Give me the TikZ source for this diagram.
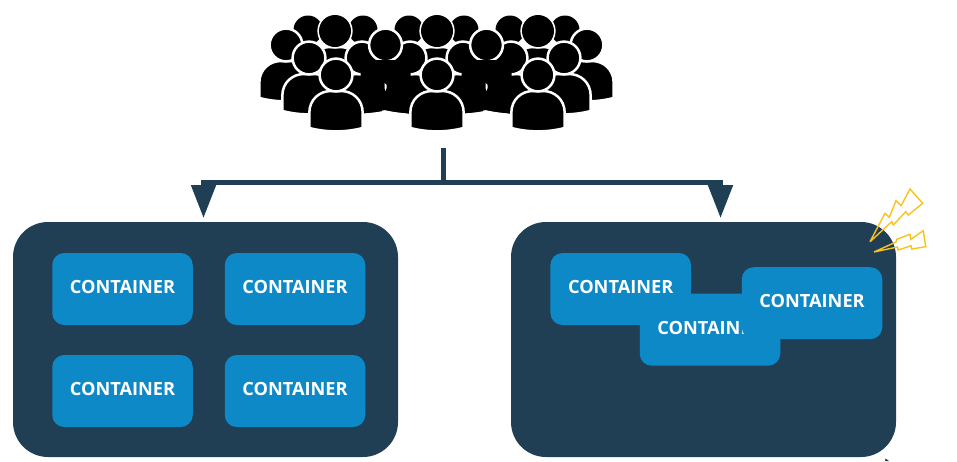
\documentclass[tikz,border=0pt]{standalone}
\usepackage{fontspec}
\setmainfont{Open Sans}
\usepackage{xcolor}
\usepackage{tikz}
\usetikzlibrary{arrows.meta,positioning}
\definecolor{hostnavy}{HTML}{203F55}
\definecolor{boxblue}{HTML}{0E89C8}
\definecolor{boltyellow}{HTML}{F7C31C}
\tikzset{
  personbody/.pic={
    \path[crowd] (-26.7,53) -- (-26.7,38) .. controls (-26.7,24) and (-16,16) .. (-5,16)
      -- (5,16) .. controls (16,16) and (26.7,24) .. (26.7,38) -- (26.7,53)
      .. controls (9,57.5) and (-9,57.5) .. (-26.7,53) -- cycle;
  },
  personhead/.pic={
    \path[crowd] (0,0) circle (16.4);
  },
  person/.pic={
    \pic {personbody};
    \pic {personhead};
  }
}
\begin{document}
\begin{tikzpicture}[
  x=1pt,
  y=-1pt,
  crowd/.style={fill=black, draw=white, line width=2.5pt},
  host/.style={fill=hostnavy, rounded corners=35pt, minimum width=385pt, minimum height=235pt, inner sep=0pt, outer sep=0pt},
  box/.style={fill=boxblue, text=white, rounded corners=12pt, minimum width=140.5pt, minimum height=72pt,
    inner sep=0pt, outer sep=0pt, text height=14pt, text depth=5pt, font=\fontsize{18.2}{20}\selectfont\bfseries},
  wire/.style={draw=hostnavy, line width=5pt},
  drop/.style={wire, -{Triangle[length=33pt, width=24pt]}},
  bolt/.style={draw=boltyellow, line width=1.4pt, line join=miter, miter limit=2}
]
  \useasboundingbox (0,0) rectangle (957,461);

  \foreach \x in {308,363,409,464,510,565} {
    \fill (\x,30) circle (14.5);
  }
  \foreach \x in {335,437,538} {
    \pic at (\x,31) {person};
    \fill (\x,31) circle (16);
  }
  \foreach \x in {286,587} {
    \pic at (\x,45) {person};
  }
  \foreach \x in {385.5,486.5} {
    \pic at (\x,45) {personbody};
  }
  \foreach \x in {309,362,410,463,511,564} {
    \pic at (\x,58) {person};
  }
  \foreach \x in {385.5,486.5} {
    \pic at (\x,45) {personhead};
    \fill (\x-25,60) -- (\x+25,60) -- (\x+25,114) -- (\x,110) -- (\x-25,114) -- cycle;
    \fill[white] (\x-1,83) -- (\x+1,85) -- (\x+1,88) -- (\x,91) -- (\x-1,88) -- cycle;
  }
  \foreach \x in {336,437,538} {
    \pic at (\x,75) {person};
  }

  \node[host] (hostleft) at (205.5,339.5) {};
  \node[host] (hostright) at (703.5,339.5) {};

  \node[box] (boxa) at (122.5,289) {CONTAINER};
  \node[box] (boxb) at (295,289) {CONTAINER};
  \node[box] (boxc) at (122.5,391) {CONTAINER};
  \node[box] (boxd) at (295,391) {CONTAINER};

  \node[box] (boxe) at (620.7,289) {CONTAINER};
  \node[box] (boxf) at (710,329.7) {CONTAINER};
  \node[box] (boxg) at (812,303.2) {CONTAINER};

  \coordinate (stem) at (443.5,148);
  \coordinate (junction) at (443.5,182.5);
  \coordinate (bendleft) at (201,182.5);
  \coordinate (bendright) at (723,182.5);
  \coordinate (dropleft) at (203.5,182.5);
  \coordinate (dropright) at (720.5,182.5);
  \coordinate (tipleft) at (203.5,218);
  \coordinate (tipright) at (720.5,218);

  \draw[wire] (stem) -- (junction);
  \draw[wire] (bendleft) -- (bendright);
  \draw[drop] (dropleft) -- (tipleft);
  \draw[drop] (dropright) -- (tipright);

  \draw[bolt] (870,241.7) -- (885,213.3) -- (889.3,217.3) -- (896,200.7) -- (901,205.7) -- (910,189)
    -- (922.7,203.3) -- (908.3,215) -- (905.7,211.7) -- (893.3,225) -- (891.7,221.7) -- cycle;
  \draw[bolt] (874,252) -- (896,242) -- (896.7,239.3) -- (910,234.3) -- (910.7,239.3) -- (923.3,230.7)
    -- (925.7,246.7) -- (911.7,249) -- (911,245.7) -- (898.3,250) -- (897.3,247) -- cycle;

  \fill[hostnavy] (885,461) -- (885.5,458.5) -- (889,461) -- cycle;
\end{tikzpicture}
\end{document}
